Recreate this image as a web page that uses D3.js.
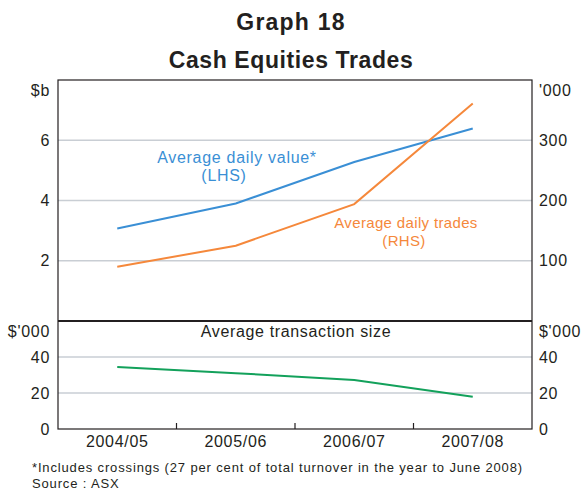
<!DOCTYPE html>
<html lang="en">
<head>
  <meta charset="UTF-8">
  <title>Graph 18</title>
  <script src="https://d3js.org/d3.v7.min.js"></script>
  <style>
    body { margin: 0; background: #fff; }
    text { font-family: "Liberation Sans", Arial, sans-serif; fill: #231f20; }
  </style>
</head>
<body>
  <div id="chart"></div>
  <script>

    // data
    const years = ['2004/05', '2005/06', '2006/07', '2007/08'];
    const dailyValue = [3.07, 3.9, 5.28, 6.39];      // $b, LHS
    const dailyTrades = [90, 125, 194, 361];        // '000, RHS
    const tradeSize = [34.5, 31, 27.2, 17.9];       // $'000

    const topLeftTicks = [2, 4, 6];
    const topRightTicks = [100, 200, 300];
    const bottomTicks = [0, 20, 40];

    const width = 582, height = 492;
    const left = 58, right = 532;
    const top1 = 80, bot1 = 321, bot2 = 429;

    const svg = d3.select('#chart').append('svg')
      .attr('width', width)
      .attr('height', height);

    const x = d3.scaleBand().domain(years).range([left, right]);
    const cx = d => x(d) + x.bandwidth() / 2;

    const yL = d3.scaleLinear().domain([0, 8]).range([bot1, top1]);
    const yR = d3.scaleLinear().domain([0, 400]).range([bot1, top1]);
    const yB = d3.scaleLinear().domain([0, 60]).range([bot2, bot1]);

    // titles
    svg.append('text').attr('x', width / 2).attr('y', 30)
      .attr('text-anchor', 'middle').style('font-weight', 'bold').style('font-size', '23px')
      .style('letter-spacing', '1.2px')
      .text('Graph 18');
    svg.append('text').attr('x', width / 2).attr('y', 68)
      .attr('text-anchor', 'middle').style('font-weight', 'bold').style('font-size', '23px')
      .style('letter-spacing', '0.6px')
      .text('Cash Equities Trades');

    // gridlines
    const grid = svg.append('g').attr('stroke', '#c9ced4').attr('stroke-width', 1.3);
    grid.selectAll('.g1').data(topLeftTicks).enter().append('line')
      .attr('x1', left).attr('x2', right)
      .attr('y1', d => yL(d)).attr('y2', d => yL(d));
    grid.selectAll('.g2').data([20, 40]).enter().append('line')
      .attr('x1', left).attr('x2', right)
      .attr('y1', d => yB(d)).attr('y2', d => yB(d));

    // axes
    const tickStyle = g => {
      g.select('.domain').remove();
      g.selectAll('.tick line').remove();
      g.selectAll('.tick text')
        .style('font-size', '16px')
        .style('letter-spacing', '0.7px')
        .style('font-family', '"Liberation Sans", Arial, sans-serif')
        .attr('fill', '#231f20');
    };

    svg.append('g').attr('transform', `translate(${left},0)`)
      .call(d3.axisLeft(yL).tickValues(topLeftTicks).tickSize(0).tickPadding(8))
      .call(tickStyle);
    svg.append('g').attr('transform', `translate(${right},0)`)
      .call(d3.axisRight(yR).tickValues(topRightTicks).tickSize(0).tickPadding(7))
      .call(tickStyle);
    svg.append('g').attr('transform', `translate(${left},0)`)
      .call(d3.axisLeft(yB).tickValues(bottomTicks).tickSize(0).tickPadding(8))
      .call(tickStyle);
    svg.append('g').attr('transform', `translate(${right},0)`)
      .call(d3.axisRight(yB).tickValues(bottomTicks).tickSize(0).tickPadding(7))
      .call(tickStyle);

    svg.append('g').attr('transform', `translate(0,${bot2})`)
      .call(d3.axisBottom(x).tickSize(0).tickPadding(7))
      .call(tickStyle);

    // inward ticks between years
    svg.selectAll('.xtick').data(years.slice(1)).enter().append('line')
      .attr('x1', d => x(d)).attr('x2', d => x(d))
      .attr('y1', bot2).attr('y2', bot2 - 6)
      .attr('stroke', '#231f20').attr('stroke-width', 1.2);

    // unit labels
    const unit = (tx, ty, anchor, t) => svg.append('text').attr('x', tx).attr('y', ty)
      .attr('text-anchor', anchor).style('font-size', '16px').style('letter-spacing', '0.7px').text(t);
    unit(50, 96, 'end', '$b');
    unit(539, 96, 'start', "'000");
    unit(50, 337, 'end', "$'000");
    unit(539, 337, 'start', "$'000");

    // frame
    const frame = svg.append('g').attr('fill', 'none').attr('stroke', '#231f20');
    frame.append('rect').attr('x', left).attr('y', top1)
      .attr('width', right - left).attr('height', bot2 - top1).attr('stroke-width', 1.2);
    frame.append('line').attr('x1', left).attr('x2', right)
      .attr('y1', bot1).attr('y2', bot1).attr('stroke-width', 1.8);

    // lines
    const idx = d3.range(years.length);
    const drawLine = (vals, yScale, color) => svg.append('path')
      .datum(idx)
      .attr('fill', 'none').attr('stroke', color).attr('stroke-width', 2)
      .attr('d', d3.line().x(i => cx(years[i])).y(i => yScale(vals[i])));

    drawLine(dailyValue, yL, '#3a8fd5');
    drawLine(dailyTrades, yR, '#f5883b');
    drawLine(tradeSize, yB, '#13a15b');

    // series labels
    const label = (tx, ty, color, size, sp, t) => svg.append('text').attr('x', tx).attr('y', ty)
      .attr('text-anchor', 'middle').style('font-size', size + 'px').style('letter-spacing', sp + 'px')
      .style('fill', color).text(t);
    label(237, 163, '#3a8fd5', 16, 0.7, 'Average daily value*');
    label(224, 181, '#3a8fd5', 16, 0.7, '(LHS)');
    label(406, 228, '#f5883b', 15, 0.35, 'Average daily trades');
    label(404, 246, '#f5883b', 15, 0.35, '(RHS)');

    svg.append('text').attr('x', 296).attr('y', 337)
      .attr('text-anchor', 'middle').style('font-size', '16px').style('letter-spacing', '0.65px')
      .text('Average transaction size');

    // notes
    const note = (ty, t) => svg.append('text').attr('x', 32).attr('y', ty)
      .style('font-size', '13px').style('letter-spacing', '0.85px').text(t);
    note(472, '*Includes crossings (27 per cent of total turnover in the year to June 2008)');
    note(488, 'Source : ASX');

  </script>
</body>
</html>
